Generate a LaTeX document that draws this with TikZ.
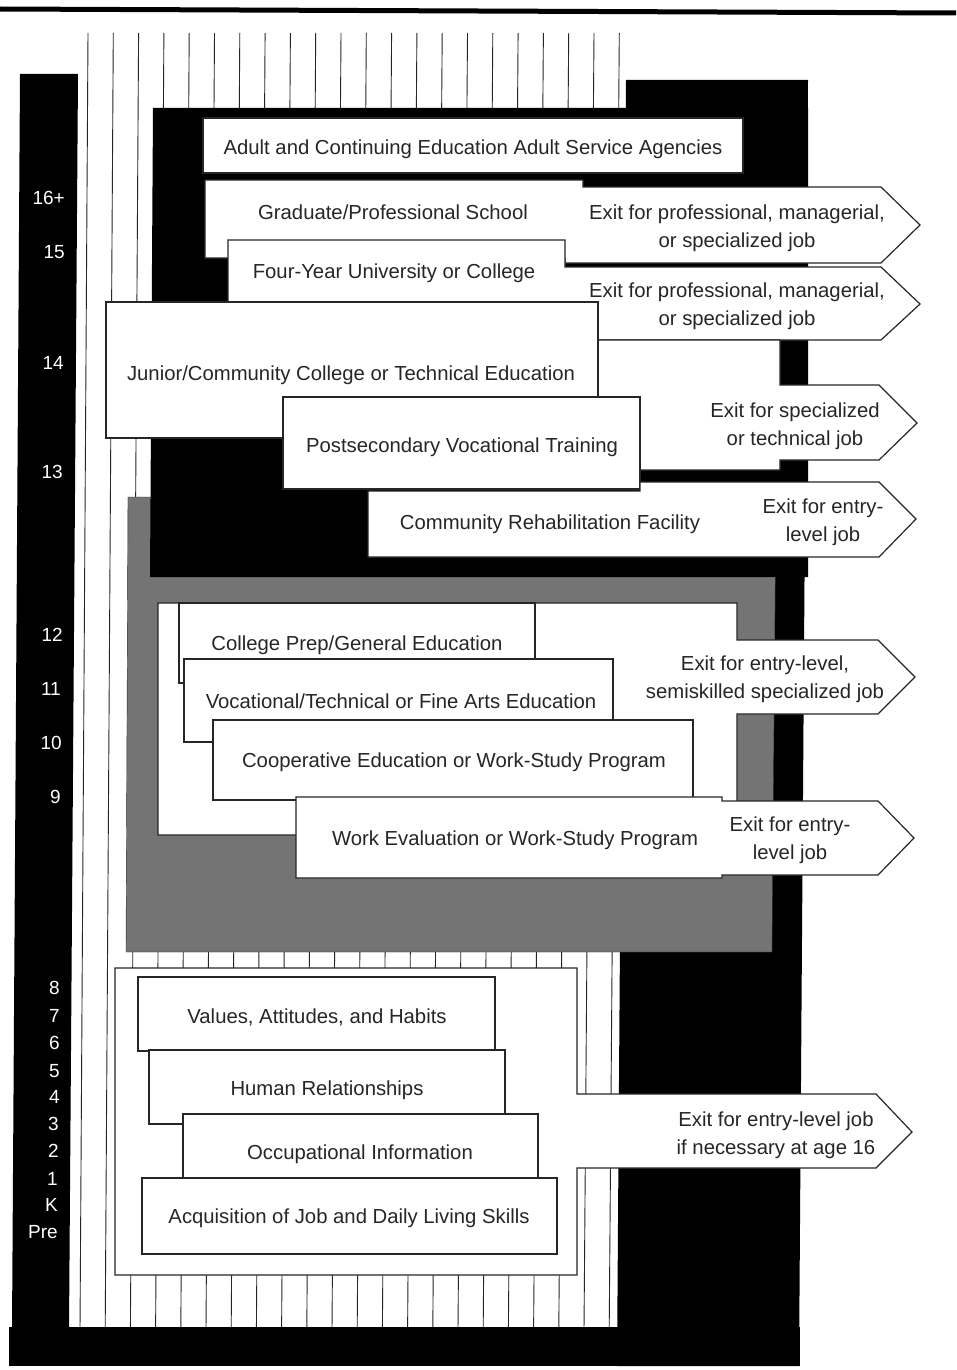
\documentclass[tikz,border=0pt]{standalone}
\usepackage{fontspec}
\setmainfont{Liberation Sans}
\usepackage{tikz}
\definecolor{panelgray}{HTML}{747474}
\definecolor{inkgray}{HTML}{262626}

\begin{document}
\begin{tikzpicture}[x=1pt,y=-1pt,
  box/.style={fill=white,draw=inkgray,line width=1.2pt},
  lbl/.style={font=\fontsize{20.3}{27.5}\selectfont,text=inkgray,inner sep=0pt,anchor=base},
  exitlbl/.style={lbl,align=center},
  grade/.style={font=\fontsize{19}{22}\selectfont,text=white,inner sep=0pt,anchor=base east}]
  \useasboundingbox (0,0) rectangle (956,1370);
  \fill[white] (0,0) rectangle (956,1370);
  \draw[line width=5pt] (0,9) -- (956,13);
  % grade stripes
  \foreach \k in {0,...,21}
    \draw[inkgray,line width=0.9pt] ({88+25.3*\k},33) -- ({80+25.2*\k},1330);
  % black frame and panels
  \fill[black] (20,74) -- (78,74) -- (69,1330) -- (12,1330) -- cycle;
  \fill[black] (9,1327) rectangle (800,1366);
  \fill[black] (626,80) -- (808,80) -- (799,1366) -- (617,1366) -- cycle;
  \filldraw[fill=panelgray,draw=inkgray] (128,497) -- (776,497) -- (772,952) -- (126,952) -- cycle;
  \fill[black] (153,108) -- (808,108) -- (808,577) -- (150,577) -- cycle;
  % postsecondary
  \filldraw[box] (203,118) rectangle (743,173);
  \filldraw[box] (205,180) -- (583,180) -- (583,187) -- (881,187) -- (920,225) -- (881,263)
    -- (565,263) -- (565,258) -- (205,258) -- cycle;
  \filldraw[box] (228,240) -- (565,240) -- (565,267) -- (881,267) -- (920,304) -- (881,340)
    -- (598,340) -- (598,302) -- (228,302) -- cycle;
  \filldraw[box] (598,340) -- (780,340) -- (780,385) -- (879,385) -- (917,423) -- (879,460)
    -- (780,460) -- (780,470) -- (598,470) -- cycle;
  \filldraw[box] (106,302) rectangle (598,438);
  \filldraw[box] (283,397) rectangle (640,489);
  \filldraw[box] (368,491) -- (640,491) -- (640,482) -- (879,482) -- (916,519) -- (879,557)
    -- (368,557) -- cycle;
  \node[lbl] (adult) at (473,154) {Adult and Continuing Education Adult Service Agencies};
  \node[lbl] (grad) at (393,219) {Graduate/Professional School};
  \node[lbl] (univ) at (394,278) {Four-Year University or College};
  \node[lbl] (junior) at (351,380) {Junior/Community College or Technical Education};
  \node[lbl] (postsec) at (462,452) {Postsecondary Vocational Training};
  \node[lbl] (rehab) at (550,529) {Community Rehabilitation Facility};
  \node[exitlbl] (exitgrad) at (737,247) {Exit for professional, managerial,\\or specialized job};
  \node[exitlbl] (exituniv) at (737,325) {Exit for professional, managerial,\\or specialized job};
  \node[exitlbl] (exittech) at (795,445) {Exit for specialized\\or technical job};
  \node[exitlbl] (exitrehab) at (823,541) {Exit for entry-\\level job};
  % secondary
  \filldraw[box] (158,603) -- (737,603) -- (737,640) -- (878,640) -- (915,677) -- (878,714)
    -- (737,714) -- (737,835) -- (158,835) -- cycle;
  \filldraw[box] (179,603) rectangle (535,683);
  \filldraw[box] (184,659) rectangle (613,742);
  \filldraw[box] (213,720) rectangle (693,800);
  \filldraw[box] (296,797) -- (722,797) -- (722,801) -- (878,801) -- (914,838) -- (878,875)
    -- (722,875) -- (722,878) -- (296,878) -- cycle;
  \node[lbl] (prep) at (357,650) {College Prep/General Education};
  \node[lbl] (voc) at (401,708) {Vocational/Technical or Fine Arts Education};
  \node[lbl] (coop) at (454,767) {Cooperative Education or Work-Study Program};
  \node[lbl] (workeval) at (515,845) {Work Evaluation or Work-Study Program};
  \node[exitlbl] (exitvoc) at (765,698) {Exit for entry-level,\\semiskilled specialized job};
  \node[exitlbl] (exitwork) at (790,859) {Exit for entry-\\level job};
  % elementary
  \filldraw[box] (115,968) -- (577,968) -- (577,1094) -- (876,1094) -- (912,1132) -- (876,1168)
    -- (577,1168) -- (577,1275) -- (115,1275) -- cycle;
  \filldraw[box] (138,977) rectangle (495,1051);
  \filldraw[box] (149,1050) rectangle (505,1124);
  \filldraw[box] (183,1114) rectangle (538,1178);
  \filldraw[box] (142,1178) rectangle (557,1254);
  \node[lbl] (values) at (317,1023) {Values, Attitudes, and Habits};
  \node[lbl] (human) at (327,1095) {Human Relationships};
  \node[lbl] (occ) at (360,1159) {Occupational Information};
  \node[lbl] (acq) at (349,1223) {Acquisition of Job and Daily Living Skills};
  \node[exitlbl] (exitage) at (776,1154) {Exit for entry-level job\\if necessary at age 16};
  % grades
  \foreach \g/\y/\x [count=\i] in {16+/204/65, 15/258/65, 14/369/64, 13/478/63, 12/641/63,
      11/695/61, 10/749/62, 9/803/61, 8/994/60, 7/1022/60, 6/1049/60, 5/1077/60, 4/1103/60,
      3/1130/59, 2/1157/59, 1/1185/58, K/1211/58, Pre/1238/58}
    \node[grade] (grade\i) at (\x,\y) {\g};
\end{tikzpicture}
\end{document}
